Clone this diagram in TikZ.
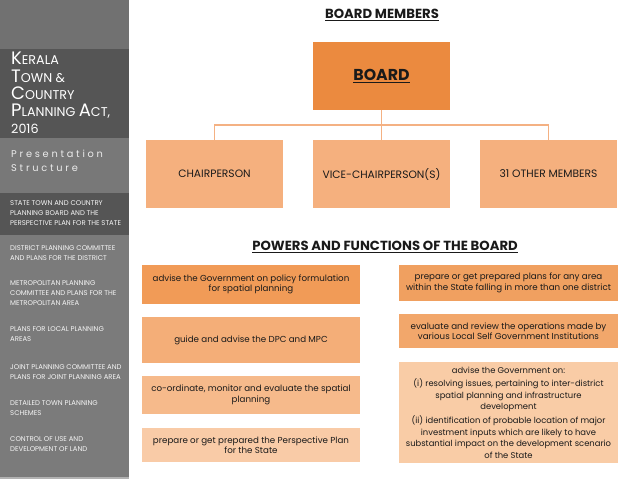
\documentclass[tikz,border=0pt]{standalone}
\usepackage{fontspec}
\setmainfont{Poppins}
\newfontfamily\spacedfont[LetterSpace=28]{Poppins}
\definecolor{sbLight}{HTML}{717171}
\definecolor{sbDark}{HTML}{555555}
\definecolor{sbMid}{HTML}{787878}
\definecolor{sbMain}{HTML}{7B7B7B}
\definecolor{boardC}{HTML}{EB8A3F}
\definecolor{childC}{HTML}{F5B07E}
\definecolor{lineC}{HTML}{F4B183}
\definecolor{pA}{HTML}{F19B57}
\definecolor{pB}{HTML}{F4AE78}
\definecolor{pC}{HTML}{F6BA8B}
\definecolor{pD}{HTML}{F9CBA7}
\definecolor{qA}{HTML}{F0A060}
\definecolor{qB}{HTML}{F2A76B}
\definecolor{qC}{HTML}{F9CCA6}
\definecolor{txt}{HTML}{1A1A1A}
\newcommand{\bigsc}[2]{{\fontsize{18}{18}\selectfont #1}{\fontsize{12.7}{12.7}\selectfont #2}}
\tikzset{
  rbox/.style={draw=none, inner sep=2pt, align=center, text=txt},
  orgbox/.style={rbox, minimum width=137pt, minimum height=68pt},
  powbox/.style={rbox, font=\fontsize{8.7}{10.5}\selectfont},
  sbitem/.style={anchor=west, align=left, text=white!92!gray, font=\fontsize{6.9}{9.8}\selectfont, inner sep=0pt},
  title/.style={font=\fontsize{13.2}{15}\selectfont\bfseries, text=txt, inner sep=0pt},
  conn/.style={draw=lineC, line width=1.4pt}
}
\begin{document}
\begin{tikzpicture}[x=1pt,y=-1pt]
\useasboundingbox (0,0) rectangle (638,479);
% sidebar bands
\fill[sbLight] (0,0) rectangle (129,49);
\fill[sbDark] (0,49) rectangle (129,138);
\fill[sbMid] (0,138) rectangle (129,193);
\fill[sbDark] (0,193) rectangle (129,235);
\fill[sbMain] (0,235) rectangle (129,477);
\fill[gray!60] (0,477) rectangle (129,479);
% sidebar title
\node[anchor=north west, align=left, text=white, inner sep=0pt, font=\fontsize{12.7}{17.3}\selectfont] (acttitle) at (11,52)
 {\bigsc{K}{ERALA}\\ \bigsc{T}{OWN \&}\\ \bigsc{C}{OUNTRY}\\ \bigsc{P}{LANNING} \bigsc{A}{CT,}\\ {\fontsize{12.7}{12.7}\selectfont 2016}};
\node[anchor=north west, align=left, text=white!85!gray, inner sep=0pt, font=\fontsize{9.8}{14}\selectfont\spacedfont] (pres) at (11,150)
 {Presentation\\Structure};
% sidebar items
\node[sbitem] (s1) at (10,213) {STATE TOWN AND COUNTRY\\PLANNING BOARD AND THE\\PERSPECTIVE PLAN FOR THE STATE};
\node[sbitem] (s2) at (10,253) {DISTRICT PLANNING COMMITTEE\\AND PLANS FOR THE DISTRICT};
\node[sbitem] (s3) at (10,293) {METROPOLITAN PLANNING\\COMMITTEE AND PLANS FOR THE\\METROPOLITAN AREA};
\node[sbitem] (s4) at (10,334) {PLANS FOR LOCAL PLANNING\\AREAS};
\node[sbitem] (s5) at (10,372) {JOINT PLANNING COMMITTEE AND\\PLANS FOR JOINT PLANNING AREA};
\node[sbitem] (s6) at (10,408) {DETAILED TOWN PLANNING\\SCHEMES};
\node[sbitem] (s7) at (10,444) {CONTROL OF USE AND\\DEVELOPMENT OF LAND};
% board members
\node[title] (t1) at (382,15) {\underline{BOARD MEMBERS}};
\node[orgbox, fill=boardC, font=\fontsize{15.8}{17}\selectfont\bfseries] (board) at (381.5,76) {\underline{BOARD}};
\node[orgbox, fill=childC, font=\fontsize{10.7}{12}\selectfont] (c1) at (214.5,174) {CHAIRPERSON};
\node[orgbox, fill=childC, font=\fontsize{10.7}{12}\selectfont] (c2) at (381.5,174) {VICE-CHAIRPERSON(S)};
\node[orgbox, fill=childC, font=\fontsize{10.7}{12}\selectfont] (c3) at (548.5,174) {31 OTHER MEMBERS};
\coordinate (bus) at (381.5,125);
\draw[conn] (board.south) -- (c2.north);
\draw[conn] (bus) -| (c1.north);
\draw[conn] (bus) -| (c3.north);
% powers
\node[title] (t2) at (385,247) {\underline{POWERS AND FUNCTIONS OF THE BOARD}};
\node[powbox, fill=pA, minimum width=218pt, minimum height=39pt] (l1) at (251,284.5) {advise the Government on policy formulation\\for spatial planning};
\node[powbox, fill=pB, minimum width=218pt, minimum height=46pt] (l2) at (251,340) {guide and advise the DPC and MPC};
\node[powbox, fill=pC, minimum width=218pt, minimum height=38pt] (l3) at (251,395) {co-ordinate, monitor and evaluate the spatial\\planning};
\node[powbox, fill=pD, minimum width=218pt, minimum height=34pt] (l4) at (251,445) {prepare or get prepared the Perspective Plan\\for the State};
\node[powbox, fill=qA, minimum width=219pt, minimum height=36pt] (r1) at (508.5,283) {prepare or get prepared plans for any area\\within the State falling in more than one district};
\node[powbox, fill=qB, minimum width=219pt, minimum height=34pt] (r2) at (508.5,331) {evaluate and review the operations made by\\various Local Self Government Institutions};
\node[powbox, fill=qC, minimum width=219pt, minimum height=101pt, font=\fontsize{8.4}{11.6}\selectfont] (r3) at (508.5,412.5) {advise the Government on:\\[2pt](i) resolving issues, pertaining to inter-district\\spatial planning and infrastructure\\development\\[2pt](ii) identification of probable location of major\\investment inputs which are likely to have\\substantial impact on the development scenario\\of the State};
\end{tikzpicture}
\end{document}
